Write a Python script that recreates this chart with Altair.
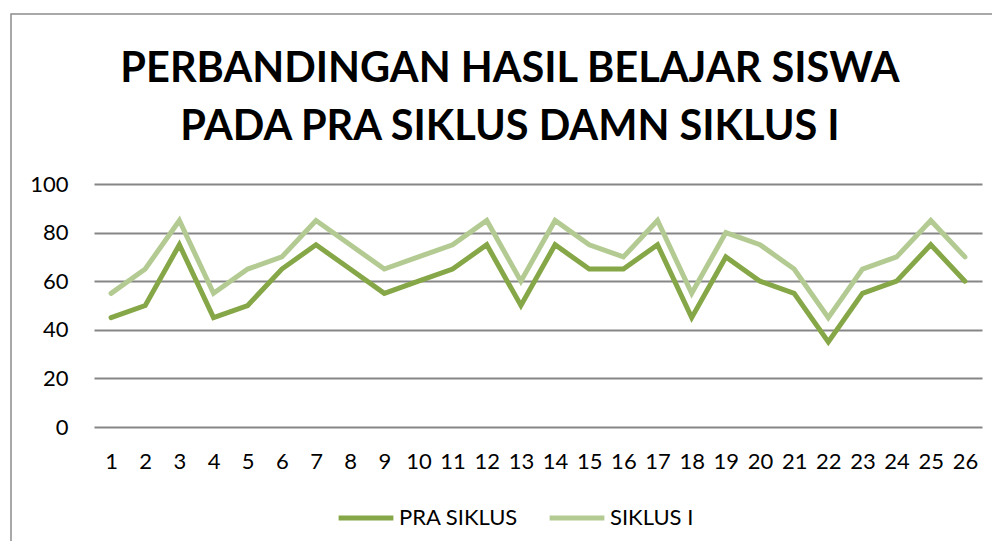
import altair as alt
import pandas as pd

siswa = list(range(1, 27))
pra_siklus = [45, 50, 75, 45, 50, 65, 75, 65, 55, 60, 65, 75, 50, 75, 65, 65, 75, 45, 70, 60, 55, 35, 55, 60, 75, 60]
siklus_1 = [55, 65, 85, 55, 65, 70, 85, 75, 65, 70, 75, 85, 60, 85, 75, 70, 85, 55, 80, 75, 65, 45, 65, 70, 85, 70]
series = ["PRA SIKLUS", "SIKLUS I"]
colors = ["#86A747", "#B3CB92"]
y_ticks = [0, 20, 40, 60, 80, 100]
title_lines = ["PERBANDINGAN HASIL BELAJAR SISWA", "PADA PRA SIKLUS DAMN SIKLUS I"]

rows = []
for s, vals in zip(series, [pra_siklus, siklus_1]):
    for x, v in zip(siswa, vals):
        rows.append({"Siswa": str(x), "Nilai": v, "Seri": s})
df = pd.DataFrame(rows)

FONT = "Lato"
one = pd.DataFrame({"a": [0]})

border = alt.Chart(one).mark_rect(
    fill=None, stroke="#8c8c8c", strokeWidth=1.5
).encode(
    x=alt.value(-83), x2=alt.value(1000), y=alt.value(-170), y2=alt.value(600)
)

t1 = alt.Chart(one).mark_text(
    text=title_lines[0], font=FONT, fontSize=41.5, fontWeight="bold", color="#000000",
    align="center", baseline="alphabetic"
).encode(x=alt.value(416), y=alt.value(-102))
t2 = alt.Chart(one).mark_text(
    text=title_lines[1], font=FONT, fontSize=41.5, fontWeight="bold", color="#000000",
    align="center", baseline="alphabetic"
).encode(x=alt.value(416), y=alt.value(-44))

lines = alt.Chart(df).mark_line(strokeWidth=5, strokeCap="round").encode(
    x=alt.X("Siswa:N", sort=[str(s) for s in siswa],
            scale=alt.Scale(type="point", padding=0.5),
            axis=alt.Axis(title=None, labelAngle=0, ticks=False, domain=False,
                          labelFontSize=22, labelFont=FONT, labelColor="#000000",
                          labelPadding=24)),
    y=alt.Y("Nilai:Q", scale=alt.Scale(domain=[0, 100]),
            axis=alt.Axis(title=None, values=y_ticks, ticks=False, domain=False,
                          gridColor="#868686", gridWidth=2, labelFontSize=22,
                          labelFont=FONT, labelColor="#000000", labelPadding=26)),
    color=alt.Color("Seri:N", sort=series,
                    scale=alt.Scale(domain=series, range=colors),
                    legend=alt.Legend(title=None, orient="none", direction="horizontal",
                                      legendX=242, legendY=304,
                                      symbolType="stroke", symbolSize=3000,
                                      symbolStrokeWidth=5, labelFontSize=22,
                                      labelFont=FONT, labelColor="#000000",
                                      columnPadding=20, labelOffset=3)),
    order=alt.Order("Seri:N"),
)

chart = alt.layer(border, t1, t2, lines).properties(
    width=888,
    height=243,
    autosize=alt.AutoSizeParams(type="none"),
    padding={"left": 86, "top": 176, "right": 10, "bottom": 114},
).configure_view(stroke=None).configure_axis(gridOpacity=1)

chart.save("out.html", embed_options={"renderer": "svg", "actions": False})
